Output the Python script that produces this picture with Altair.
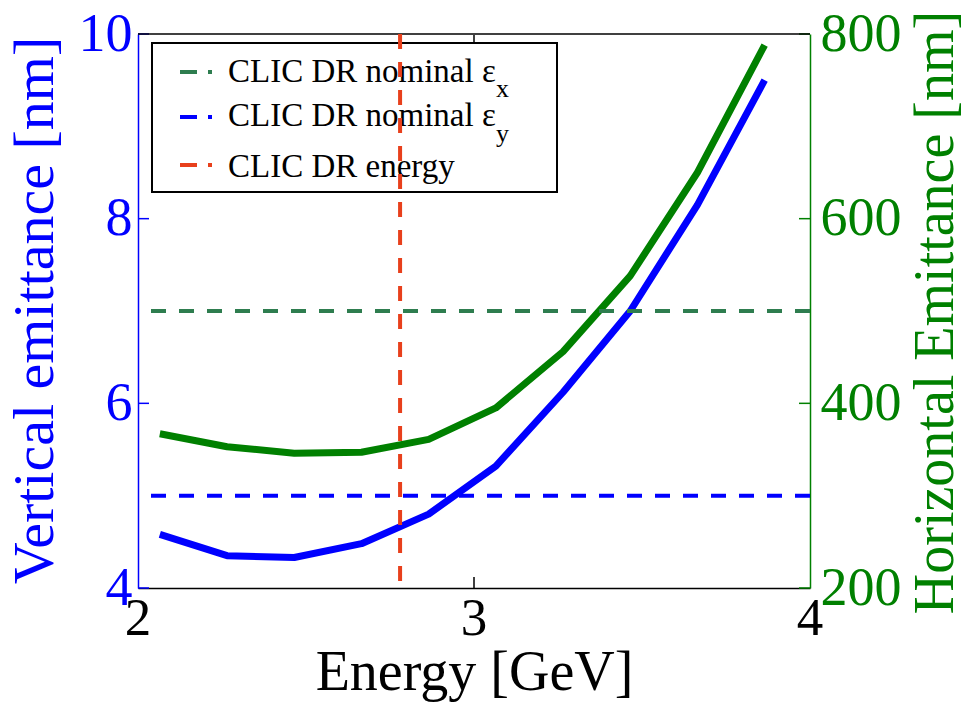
import altair as alt
import pandas as pd

# ---------------- data ----------------
energy = [2.065, 2.265, 2.465, 2.665, 2.865, 3.065, 3.265, 3.465, 3.665, 3.865]
vert_emit = [4.58, 4.35, 4.33, 4.48, 4.80, 5.32, 6.12, 7.00, 8.15, 9.50]       # nm (left axis)
horiz_emit = [367, 353, 346, 347, 361, 395, 456, 538, 650, 788]               # nm (right axis)

nominal_eps_y = [5.0]     # nm
nominal_eps_x = [500.0]   # nm
dr_energy = [2.78]        # GeV

x_ticks = [2.0, 3.0, 4.0]
x_tick_labels = ["2", "3", "4"]
x_inner_ticks = [3.0]
left_ticks = [4, 6, 8, 10]
right_ticks = [200, 400, 600, 800]

legend_labels = ["CLIC DR nominal \u03b5", "CLIC DR nominal \u03b5", "CLIC DR energy"]
legend_subs = ["x", "y", ""]
legend_colors = ["#2e7d4f", "#0000ff", "#e8401c"]

# ---------------- style ----------------
FONT = "Liberation Serif"
W, H = 672, 554
BLUE = "#0000ff"
GREEN = "#008000"
DGREEN = "#2e7d4f"
RED = "#e8401c"

df = pd.DataFrame({"e": energy, "v": vert_emit, "h": horiz_emit})


def xs():
    return alt.Scale(domain=[2, 4], nice=False, zero=False)


def ls():
    return alt.Scale(domain=[4, 10], nice=False, zero=False)


def rs():
    return alt.Scale(domain=[200, 800], nice=False, zero=False)


def x_axis():
    return alt.Axis(orient="bottom", values=x_ticks, labels=False, ticks=False,
                    domainColor="black", domainWidth=1.5, grid=False,
                    title="Energy [GeV]", titleFont=FONT, titleFontSize=56, titleFontWeight="normal",
                    titleColor="black", titleX=W / 2, titleY=101, titleAlign="center",
                    titleBaseline="alphabetic")


left_axis = alt.Axis(orient="left", values=left_ticks, format="d", labelFont=FONT, labelFontSize=54,
                     labelColor=BLUE, labelPadding=6, labelFlush=False, labelOverlap=False,
                     ticks=False, domainColor=BLUE, domainWidth=1.5, grid=False,
                     title="Vertical emittance [nm]", titleFont=FONT, titleFontSize=58,
                     titleFontWeight="normal", titleColor=BLUE, titleAngle=270, titleX=-86,
                     titleY=276, titleAlign="center", titleBaseline="alphabetic")

right_axis = alt.Axis(orient="right", values=right_ticks, format="d", labelFont=FONT, labelFontSize=54,
                      labelColor=GREEN, labelPadding=10, labelFlush=False, labelOverlap=False,
                      ticks=False, domainColor=GREEN, domainWidth=1.5, grid=False,
                      title="Horizontal Emittance [nm]", titleFont=FONT, titleFontSize=56,
                      titleFontWeight="normal", titleColor=GREEN, titleAngle=270, titleX=142,
                      titleY=278, titleAlign="center", titleBaseline="alphabetic")

one = pd.DataFrame({"a": [0]})

# dashed nominal lines
blue_dash = alt.Chart(pd.DataFrame({"v": nominal_eps_y})).mark_rule(
    color=BLUE, strokeWidth=4, strokeDash=[15, 13]).encode(
    y=alt.Y("v:Q", scale=ls(), axis=None))
green_dash = alt.Chart(pd.DataFrame({"h": nominal_eps_x})).mark_rule(
    color=DGREEN, strokeWidth=4, strokeDash=[15, 13]).encode(
    y=alt.Y("h:Q", scale=rs(), axis=None))

# inward ticks
left_tk = alt.Chart(pd.DataFrame({"v": left_ticks})).mark_rule(color=BLUE, strokeWidth=1.5).encode(
    y=alt.Y("v:Q", scale=ls(), axis=None), x=alt.value(0), x2=alt.value(11))
right_tk = alt.Chart(pd.DataFrame({"h": right_ticks})).mark_rule(color=GREEN, strokeWidth=1.5).encode(
    y=alt.Y("h:Q", scale=rs(), axis=None), x=alt.value(W - 11), x2=alt.value(W))
xt = pd.DataFrame({"tk": x_inner_ticks})
bottom_tk = alt.Chart(xt).mark_rule(color="black", strokeWidth=1.5).encode(
    x=alt.X("tk:Q", scale=xs(), axis=x_axis()), y=alt.value(H - 11), y2=alt.value(H))
top_tk = alt.Chart(xt).mark_rule(color="black", strokeWidth=1.5).encode(
    x=alt.X("tk:Q", scale=xs(), axis=x_axis()), y=alt.value(1), y2=alt.value(12))
top_line = alt.Chart(one).mark_rule(color="black", strokeWidth=1.5).encode(
    x=alt.value(0), x2=alt.value(W), y=alt.value(0))

# x tick labels
x_lab = alt.Chart(pd.DataFrame({"lx": x_ticks, "t": x_tick_labels})).mark_text(
    font=FONT, fontSize=53, align="center", baseline="top", color="black").encode(
    x=alt.X("lx:Q", scale=xs(), axis=x_axis()), y=alt.value(H + 5), text="t:N")

# data lines
blue_line = alt.Chart(df).mark_line(color=BLUE, strokeWidth=7, strokeJoin="round").encode(
    x=alt.X("e:Q", scale=xs(), axis=x_axis()),
    y=alt.Y("v:Q", scale=ls(), axis=left_axis),
)
green_line = alt.Chart(df).mark_line(color=GREEN, strokeWidth=7, strokeJoin="round").encode(
    x=alt.X("e:Q", scale=xs(), axis=x_axis()),
    y=alt.Y("h:Q", scale=rs(), axis=right_axis),
)

# legend
legend_box = alt.Chart(one).mark_rect(fill="white", stroke="black", strokeWidth=2).encode(
    x=alt.value(14), x2=alt.value(419), y=alt.value(9), y2=alt.value(158))

row_line_y = [38, 83, 131]
row_text_y = [48, 92, 143]
row_sub_y = [63, 108, 158]
leg_layers = []
for i in range(3):
    leg_layers.append(
        alt.Chart(one).mark_rule(
            color=legend_colors[i], strokeWidth=4, strokeDash=[17, 11, 4, 200]).encode(
            x=alt.value(42), x2=alt.value(76), y=alt.value(row_line_y[i])))
    leg_layers.append(
        alt.Chart(pd.DataFrame({"t": [legend_labels[i]]})).mark_text(
            font=FONT, fontSize=33, align="left", baseline="alphabetic", color="black").encode(
            text="t:N", x=alt.value(90), y=alt.value(row_text_y[i])))
    if legend_subs[i]:
        leg_layers.append(
            alt.Chart(pd.DataFrame({"t": [legend_subs[i]]})).mark_text(
                font=FONT, fontSize=26, align="left", baseline="alphabetic", color="black").encode(
                text="t:N", x=alt.value(358), y=alt.value(row_sub_y[i])))

red_line = alt.Chart(pd.DataFrame({"e": dr_energy})).mark_rule(
    color=RED, strokeWidth=4, strokeDash=[15, 13]).encode(
    x=alt.X("e:Q", scale=xs(), axis=x_axis()))

chart = alt.layer(
    blue_line, green_line, blue_dash, green_dash, left_tk, right_tk, bottom_tk, top_tk, top_line,
    x_lab, legend_box, *leg_layers, red_line
).resolve_scale(y="independent").properties(
    width=W, height=H,
    background="white",
    autosize=alt.AutoSizeParams(type="none"),
    padding={"left": 138, "top": 34, "right": 156, "bottom": 115},
).configure_view(stroke=None)

chart.save("out.html", embed_options={"renderer": "svg", "actions": False})
